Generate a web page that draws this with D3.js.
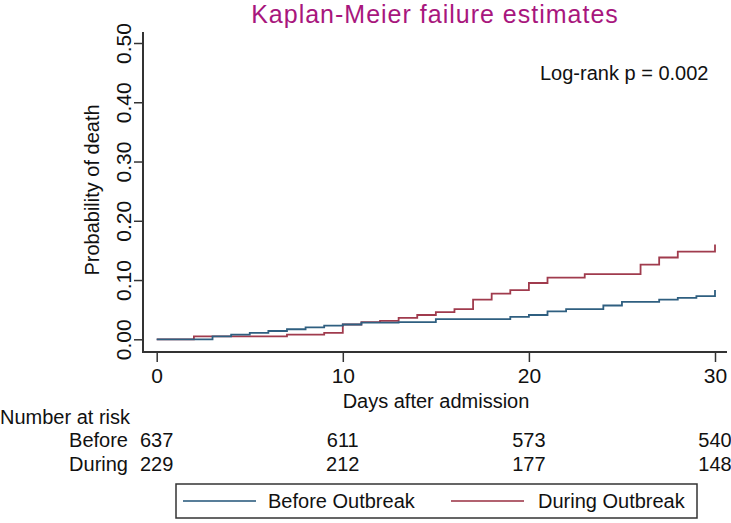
<!DOCTYPE html>
<html>
<head>
<meta charset="utf-8">
<script src="https://cdn.jsdelivr.net/npm/d3@7"></script>
<style>
  html, body { margin: 0; padding: 0; background: #fff; }
  svg { display: block; }
  text { font-family: "Liberation Sans", Arial, sans-serif; fill: #111; }
</style>
</head>
<body>
<svg id="chart" width="731" height="523"></svg>
<script>
// ---- Data ----
const beforeDays = [0, 3, 4, 5, 6, 7, 8, 9, 10, 11, 13, 15, 19, 20, 21, 22, 24, 25, 27, 28, 29, 30];
const beforeProb = [0, 0.005, 0.008, 0.011, 0.014, 0.017, 0.020, 0.023, 0.025, 0.028, 0.029, 0.034, 0.038, 0.041, 0.047, 0.051, 0.057, 0.063, 0.067, 0.070, 0.073, 0.083];
const duringDays = [0, 2, 7, 9, 10, 11, 12, 13, 14, 15, 16, 17, 18, 19, 20, 21, 23, 26, 27, 28, 30];
const duringProb = [0, 0.005, 0.008, 0.011, 0.025, 0.029, 0.031, 0.036, 0.041, 0.046, 0.051, 0.067, 0.077, 0.083, 0.095, 0.104, 0.110, 0.126, 0.138, 0.148, 0.160];
const xTicks = [0, 10, 20, 30];
const yTicks = [0, 0.1, 0.2, 0.3, 0.4, 0.5];
const riskTimes = [0, 10, 20, 30];
const riskBefore = [637, 611, 573, 540];
const riskDuring = [229, 212, 177, 148];
const groupLabels = ["Before", "During"];
const legendLabels = ["Before Outbreak", "During Outbreak"];
const titleText = "Kaplan-Meier failure estimates";
const pText = "Log-rank p = 0.002";

const colors = ["#2f5f80", "#a03b4d"];

const svg = d3.select("#chart");
svg.append("rect").attr("width", 731).attr("height", 523).attr("fill", "#fff");

const x = d3.scaleLinear().domain([0, 30]).range([156.7, 715]);
const y = d3.scaleLinear().domain([0, 0.5]).range([339.3, 43]);

const axisLeftX = 143, axisBottomY = 352;

// Title
svg.append("text")
  .attr("x", 435).attr("y", 23)
  .attr("text-anchor", "middle")
  .attr("font-size", 25)
  .attr("letter-spacing", 1)
  .style("fill", "#a8167d")
  .text(titleText);

// Y axis
const yAxis = d3.axisLeft(y).tickValues(yTicks).tickFormat(d3.format(".2f")).tickSize(9).tickSizeOuter(0);
const gy = svg.append("g").attr("transform", `translate(${axisLeftX},0)`).call(yAxis);
gy.select(".domain").remove();
gy.selectAll(".tick line").attr("stroke", "#333").attr("stroke-width", 1.5);
gy.selectAll(".tick text")
  .attr("x", null).attr("dy", null)
  .attr("font-size", 21)
  .attr("text-anchor", "middle")
  .attr("transform", "translate(-12,0) rotate(-90)")
  .style("font-family", "'Liberation Sans', Arial, sans-serif")
  .style("fill", "#111");
svg.append("line").attr("x1", axisLeftX).attr("x2", axisLeftX).attr("y1", 32).attr("y2", axisBottomY)
  .attr("stroke", "#333").attr("stroke-width", 2);

// X axis
const xAxis = d3.axisBottom(x).tickValues(xTicks).tickSize(10).tickSizeOuter(0);
const gx = svg.append("g").attr("transform", `translate(0,${axisBottomY})`).call(xAxis);
gx.select(".domain").remove();
gx.selectAll(".tick line").attr("stroke", "#333").attr("stroke-width", 1.5);
gx.selectAll(".tick text")
  .attr("y", 31).attr("dy", null)
  .attr("font-size", 21)
  .style("font-family", "'Liberation Sans', Arial, sans-serif")
  .style("fill", "#111");
svg.append("line").attr("x1", axisLeftX - 1).attr("x2", 727).attr("y1", axisBottomY).attr("y2", axisBottomY)
  .attr("stroke", "#333").attr("stroke-width", 2);

// Axis titles
svg.append("text")
  .attr("transform", "translate(99,190) rotate(-90)")
  .attr("text-anchor", "middle")
  .attr("font-size", 20)
  .text("Probability of death");
svg.append("text")
  .attr("x", 436).attr("y", 408)
  .attr("text-anchor", "middle")
  .attr("font-size", 20)
  .text("Days after admission");

// Log-rank annotation
svg.append("text")
  .attr("x", 540).attr("y", 80)
  .attr("font-size", 20)
  .text(pText);

// KM step curves
const line = d3.line().x(d => x(d[0])).y(d => y(d[1])).curve(d3.curveStepAfter);
const series = [
  d3.zip(beforeDays, beforeProb),
  d3.zip(duringDays, duringProb)
];
[1, 0].forEach(i => {
  svg.append("path")
    .datum(series[i])
    .attr("fill", "none")
    .attr("stroke", colors[i])
    .attr("stroke-width", 1.8)
    .attr("d", line);
});

// Number at risk table
svg.append("text").attr("x", 0).attr("y", 424).attr("font-size", 20).text("Number at risk");
const riskRows = [riskBefore, riskDuring];
const rowY = [447, 471];
riskRows.forEach((row, r) => {
  svg.append("text").attr("x", 128).attr("y", rowY[r]).attr("text-anchor", "end")
    .attr("font-size", 20).text(groupLabels[r]);
  svg.selectAll(null).data(d3.zip(riskTimes, row)).enter().append("text")
    .attr("x", d => x(d[0]))
    .attr("y", rowY[r])
    .attr("text-anchor", "middle")
    .attr("font-size", 20)
    .text(d => d[1]);
});

// Legend
const lg = svg.append("g");
lg.append("rect").attr("x", 176).attr("y", 484).attr("width", 521).attr("height", 34)
  .attr("fill", "#fff").attr("stroke", "#333").attr("stroke-width", 1.5);
const legX = [[183, 256, 268], [451, 524, 538]];
legendLabels.forEach((lab, i) => {
  lg.append("line").attr("x1", legX[i][0]).attr("x2", legX[i][1]).attr("y1", 501).attr("y2", 501)
    .attr("stroke", colors[i]).attr("stroke-width", 1.8).attr("opacity", 0.8);
  lg.append("text").attr("x", legX[i][2]).attr("y", 508).attr("font-size", 20).text(lab);
});
</script>
</body>
</html>
